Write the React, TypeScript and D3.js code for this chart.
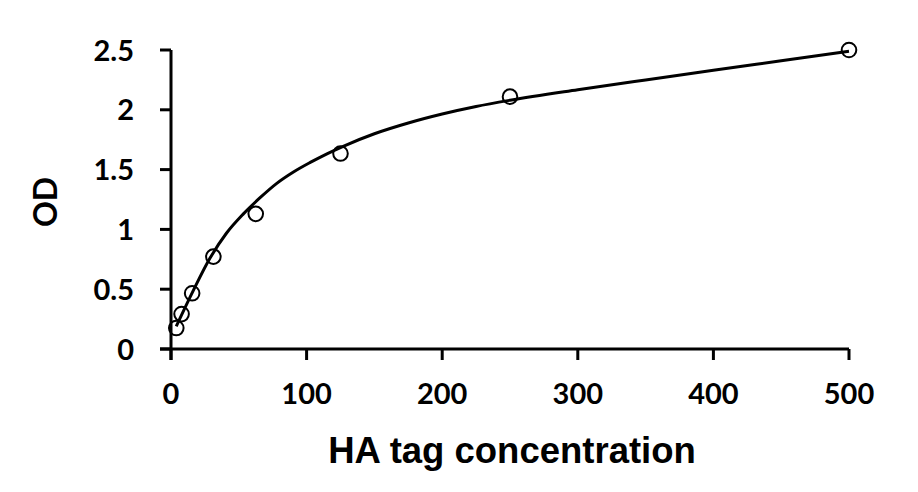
import React from "react";
import * as d3 from "d3";

const concentrations = [3.9, 7.8, 15.6, 31.25, 62.5, 125, 250, 500];
const odValues = [0.175, 0.292, 0.466, 0.772, 1.13, 1.634, 2.11, 2.5];

const curveX = [3.9, 16.5, 28.8, 41, 53.4, 65.7, 78, 90.3, 102.7, 115, 127, 150, 175, 200, 225, 250, 300, 350, 400, 450, 500];
const curveY = [0.19, 0.49, 0.76, 0.97, 1.13, 1.265, 1.385, 1.48, 1.56, 1.632, 1.695, 1.8, 1.89, 1.965, 2.028, 2.08, 2.168, 2.25, 2.33, 2.41, 2.49];

const xTicks = [0, 100, 200, 300, 400, 500];
const yTicks = [0, 0.5, 1, 1.5, 2, 2.5];
const yTickLabels = ["0", "0.5", "1", "1.5", "2", "2.5"];

const xTitle = "HA tag concentration";
const yTitle = "OD";

export default function App() {
  const W = 918;
  const H = 492;
  const x = d3.scaleLinear().domain([0, 500]).range([171, 849]);
  const y = d3.scaleLinear().domain([0, 2.5]).range([349, 50]);
  const tickLen = 11;
  const line = d3
    .line<number>()
    .x((_, i) => x(curveX[i]))
    .y((d) => y(d))
    .curve(d3.curveMonotoneX);
  const tickFont = "Lato, 'Open Sans', sans-serif";

  return (
    <svg
      width={W}
      height={H}
      style={{ position: "absolute", left: 0, top: 0, background: "#fff" }}
    >
      <rect x={0} y={0} width={W} height={H} fill="#fff" />
      {/* axes */}
      <line x1={x(0)} x2={x(0)} y1={y(2.5)} y2={y(0) + tickLen} stroke="#000" strokeWidth={3} />
      <line x1={x(0) - tickLen} x2={x(500)} y1={y(0)} y2={y(0)} stroke="#000" strokeWidth={3} />
      {xTicks.map((t) => (
        <g key={"xt" + t}>
          <line x1={x(t)} x2={x(t)} y1={y(0)} y2={y(0) + tickLen} stroke="#000" strokeWidth={3} />
          <text
            x={x(t)}
            y={404}
            textAnchor="middle"
            fontFamily={tickFont}
            fontWeight={700}
            fontSize={29}
            fill="#000"
          >
            {t}
          </text>
        </g>
      ))}
      {yTicks.map((t, i) => (
        <g key={"yt" + t}>
          <line x1={x(0) - tickLen} x2={x(0)} y1={y(t)} y2={y(t)} stroke="#000" strokeWidth={3} />
          <text
            x={134}
            y={y(t) + 10.5}
            textAnchor="end"
            fontFamily={tickFont}
            fontWeight={700}
            fontSize={29}
            fill="#000"
          >
            {yTickLabels[i]}
          </text>
        </g>
      ))}
      {/* fitted curve */}
      <path d={line(curveY) || ""} fill="none" stroke="#000" strokeWidth={3} />
      {/* data points */}
      {concentrations.map((c, i) => (
        <circle
          key={"p" + i}
          cx={x(c)}
          cy={y(odValues[i])}
          r={7.3}
          fill="none"
          stroke="#000"
          strokeWidth={2}
        />
      ))}
      {/* titles */}
      <text
        x={512}
        y={463}
        textAnchor="middle"
        fontFamily="'Liberation Sans', Arial, sans-serif"
        fontWeight={700}
        fontSize={36.5}
        fill="#000"
      >
        {xTitle}
      </text>
      <text
        transform={`translate(57,202) rotate(-90)`}
        textAnchor="middle"
        fontFamily={tickFont}
        fontWeight={700}
        fontSize={32}
        fill="#000"
      >
        {yTitle}
      </text>
    </svg>
  );
}
